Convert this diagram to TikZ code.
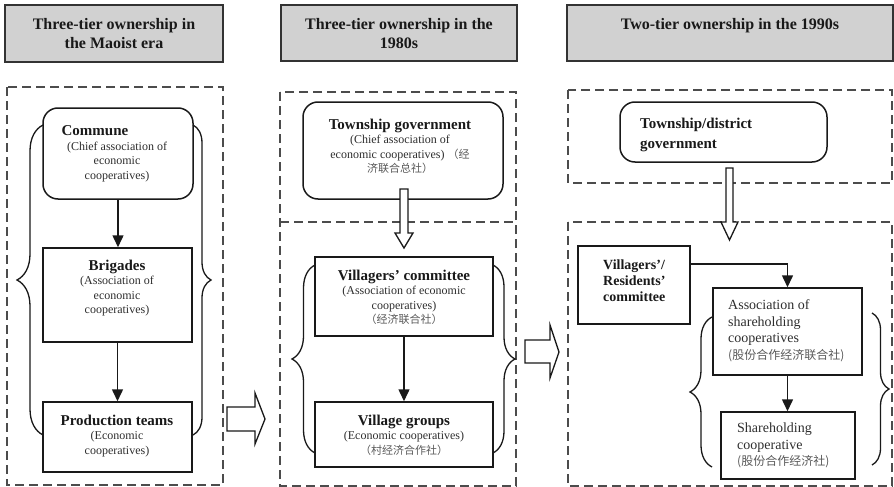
\documentclass[tikz,border=0pt]{standalone}
\usepackage{fontspec}
\setmainfont{Liberation Serif}
\newfontfamily\cjk{Noto Sans CJK SC}
\usetikzlibrary{arrows.meta,decorations.pathreplacing}

\newcommand{\hd}{\fontsize{15}{17}\selectfont\bfseries\color{black!90}}
\newcommand{\bd}{\fontsize{12}{14.5}\selectfont}
\newcommand{\zh}[2][11]{{\cjk\fontsize{#1}{14}\selectfont\color{black!65}#2}}

\tikzset{
  banner/.style={draw=black!80, line width=1.4pt, fill=black!18, inner sep=0pt},
  heading/.style={anchor=north, inner sep=0pt, align=center,
    font=\fontsize{16}{19}\selectfont\bfseries, text=black!90},
  frame/.style={draw=black!70, line width=1.4pt, dash pattern=on 9pt off 5pt},
  unit/.style={draw=black!90, line width=1.5pt, inner sep=0pt},
  tag/.style={anchor=north, inner sep=0pt, align=center, font=\bd, text=black!82},
  ltag/.style={anchor=north west, inner sep=0pt, align=left},
  link/.style={draw=black!90, line width=1.5pt, -{Triangle[length=12pt,width=11pt]}},
  hollow/.style={draw=black!90, line width=1.3pt, fill=white, line join=miter},
  curly/.style={draw=black!90, line width=1.3pt, decorate,
    decoration={brace, amplitude=#1}},
}

\begin{document}
\begin{tikzpicture}[x=1pt, y=-1pt]
  \useasboundingbox (0,0) rectangle (894,487);

  % headings
  \node[banner, minimum width=218pt, minimum height=57pt] (era1) at (114,33.5) {};
  \node[banner, minimum width=236pt, minimum height=56pt] (era2) at (399,33) {};
  \node[banner, minimum width=326pt, minimum height=56pt] (era3) at (730,33) {};
  \node[heading] (era1txt) at (114,18) {Three-tier ownership in\\the Maoist era};
  \node[heading] (era2txt) at (399,18) {Three-tier ownership in the\\1980s};
  \node[heading] (era3txt) at (730,18) {Two-tier ownership in the 1990s};

  % dashed frames
  \draw[frame] (7,87) rectangle (223,485);
  \draw[frame] (280,92) rectangle (516,486);
  \draw[frame] (280,222) -- (516,222);
  \draw[frame] (568,90) rectangle (892,183);
  \draw[frame] (568,222) rectangle (892,486);

  % Maoist era
  \node[unit, rounded corners=15pt, minimum width=150pt, minimum height=91pt] (comm) at (118,153.5) {};
  \node[unit, minimum width=149pt, minimum height=94pt] (brig) at (117.5,295) {};
  \node[unit, minimum width=149pt, minimum height=70pt] (prod) at (117.5,437) {};
  \node[tag] (commtxt) at (117,125.5) {{\hd Commune}\hspace*{44pt}\\(Chief association of\\economic\\cooperatives)};
  \node[tag] (brigtxt) at (117,259.5) {{\hd Brigades}\\(Association of\\economic\\cooperatives)};
  \node[tag] (prodtxt) at (117,414.5) {{\hd Production teams}\\(Economic\\cooperatives)};
  \draw[link] (comm.south) -- (comm.south |- brig.north);
  \draw[link] (brig.south) -- (brig.south |- prod.north);
  \draw[curly=26pt] (43,435) -- (43,125);
  \draw[curly=18pt] (193,125) -- (193,435);

  % 1980s
  \node[unit, rounded corners=15pt, minimum width=200pt, minimum height=97pt] (town) at (403,150.5) {};
  \node[unit, minimum width=178pt, minimum height=79pt] (vcom) at (404,296.5) {};
  \node[unit, minimum width=178pt, minimum height=65pt] (vgrp) at (404,434.5) {};
  \node[tag] (towntxt) at (400,118.5) {{\hd Township government}\\(Chief association of\\economic cooperatives) \zh{（经}\\\zh{济联合总社）}};
  \node[tag] (vcomtxt) at (404,269.5) {{\hd Villagers' committee}\\(Association of economic\\cooperatives)\\\zh{（经济联合社）}};
  \node[tag] (vgrptxt) at (404,414.5) {{\hd Village groups}\\(Economic cooperatives)\\\zh{（村经济合作社）}};
  \draw[link] (vcom.south) -- (vgrp.north);
  \draw[curly=23pt] (315,453) -- (315,265);
  \draw[curly=22pt] (493,265) -- (493,453);

  % 1990s
  \node[unit, rounded corners=15pt, minimum width=207pt, minimum height=60pt] (dist) at (723.5,132) {};
  \node[unit, minimum width=112pt, minimum height=78pt] (vres) at (634,285) {};
  \node[unit, minimum width=149pt, minimum height=87pt] (assoc) at (787.5,331.5) {};
  \node[unit, minimum width=134pt, minimum height=67pt] (share) at (788,445.5) {};
  \node[ltag, font=\fontsize{15}{20}\selectfont\bfseries, text=black!90] (disttxt) at (640,117.5) {Township/district\\government};
  \node[ltag, font=\fontsize{14}{16}\selectfont\bfseries, text=black!90] (vrestxt) at (603,259.5) {Villagers'/\\Residents'\\committee};
  \node[ltag, font=\fontsize{14}{16.5}\selectfont, text=black!82] (assoctxt) at (728,299.7) {Association of\\shareholding\\cooperatives\\\zh[12]{(股份合作经济联合社)}};
  \node[ltag, font=\fontsize{14}{16.5}\selectfont, text=black!82] (sharetxt) at (737,422.7) {Shareholding\\cooperative\\\zh[12]{(股份合作经济社)}};
  \draw[link] ([yshift=21pt]vres.east) -| (assoc.north);
  \draw[link] (assoc.south) -- (assoc.south |- share.north);
  \draw[curly=22pt] (712,467) -- (712,317);
  \draw[curly=17pt] (872,313) -- (872,465);

  % hollow arrows
  \draw[hollow] (400,189) -- (408,189) -- (408,233) -- (413,233) -- (404,248)
    -- (395,233) -- (400,233) -- cycle;
  \draw[hollow] (726,168) -- (733,168) -- (733,222) -- (738,222) -- (729.5,240)
    -- (721,222) -- (726,222) -- cycle;
  \draw[hollow] (227,407) -- (255,407) -- (255,393) -- (265,419) -- (255,444)
    -- (255,431) -- (227,431) -- cycle;
  \draw[hollow] (525,340) -- (550,340) -- (550,325) -- (559,352) -- (550,378)
    -- (550,363) -- (525,363) -- cycle;
\end{tikzpicture}
\end{document}
